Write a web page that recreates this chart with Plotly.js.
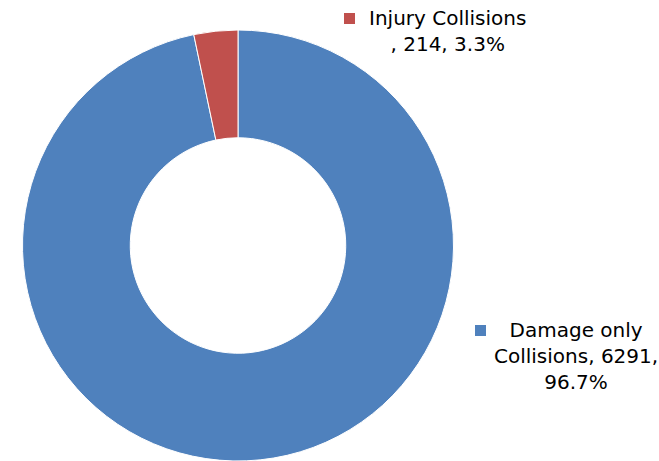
<!DOCTYPE html>
<html>
<head>
<meta charset="utf-8">
<script src="https://cdn.plot.ly/plotly-3.0.1.min.js"></script>
<style>html,body{margin:0;padding:0;background:#fff;}#chart{width:659px;height:461px;}</style>
</head>
<body>
<div id="chart"></div>
<script>
const categories = ["Damage only Collisions", "Injury Collisions"];
const values = [6291, 214];
const percents = ["96.7%", "3.3%"];
const colors = ["#4F81BD", "#C0504D"];

const trace = {
  type: "pie",
  labels: categories,
  values: values,
  hole: 0.5,
  sort: false,
  direction: "clockwise",
  rotation: 0,
  textinfo: "none",
  hoverinfo: "label+value+percent",
  marker: {colors: colors, line: {color: "#ffffff", width: 1}},
  domain: {x: [22/659, 454/659], y: [0, 1 - 30/461]},
  showlegend: false
};

const font = {family: "'DejaVu Sans', sans-serif", size: 20, color: "#000"};

const layout = {
  width: 659, height: 461,
  margin: {l: 0, r: 0, t: 0, b: 0},
  paper_bgcolor: "#fff",
  showlegend: false,
  annotations: [
    {xref: "paper", yref: "paper", x: 447/659, y: 1 - 31/461, xanchor: "center", yanchor: "middle",
     text: categories[1] + "<br>, " + values[1] + ", " + percents[1], showarrow: false, font: font, align: "center"},
    {xref: "paper", yref: "paper", x: 576/659, y: 1 - 356/461, xanchor: "center", yanchor: "middle",
     text: "Damage only<br>Collisions, " + values[0] + ",<br>" + percents[0], showarrow: false, font: font, align: "center"}
  ],
  shapes: [
    {type: "rect", xref: "paper", yref: "paper", x0: 344/659, x1: 355/659, y0: 1 - 24/461, y1: 1 - 13/461,
     fillcolor: colors[1], line: {width: 0}},
    {type: "rect", xref: "paper", yref: "paper", x0: 475/659, x1: 486/659, y0: 1 - 336/461, y1: 1 - 325/461,
     fillcolor: colors[0], line: {width: 0}}
  ]
};

Plotly.newPlot("chart", [trace], layout, {displayModeBar: false, staticPlot: true});
</script>
</body>
</html>
